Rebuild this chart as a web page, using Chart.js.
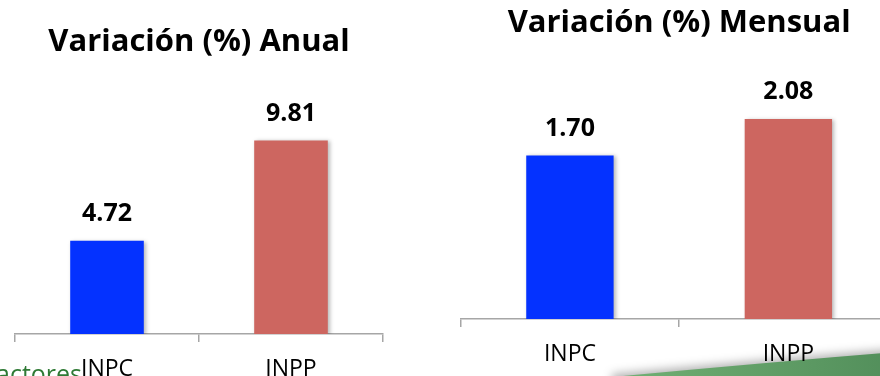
<!DOCTYPE html>
<html lang="es">
<head>
<meta charset="utf-8">
<title>Variación INPC / INPP</title>
<script src="https://cdn.jsdelivr.net/npm/chart.js@4.4.1/dist/chart.umd.min.js"></script>
<style>
  html, body { margin: 0; padding: 0; width: 880px; height: 376px; overflow: hidden; background: #ffffff; }
  #wrap { position: relative; width: 880px; height: 376px; overflow: hidden; }
  canvas { position: absolute; top: 0; }
  #anual { left: 0; }
  #mensual { left: 440px; }
</style>
</head>
<body>
<div id="wrap">
  <canvas id="anual" width="440" height="400"></canvas>
  <canvas id="mensual" width="480" height="400"></canvas>
</div>
<script>
// Índices comparados
const categorias = ['INPC', 'INPP'];
// Variación porcentual anual y mensual
const variacionAnual = [4.72, 9.81];
const variacionMensual = [1.70, 2.08];
// Colores de barra por índice
const coloresBarras = ['#0432ff', '#cd6660'];

Chart.defaults.font.family = "'Open Sans', 'DejaVu Sans', sans-serif";
Chart.defaults.color = '#000000';

const ejeGris = '#a6a6a6';

// Sombra suave bajo las barras y etiqueta de valor encima de cada una
const etiquetasValor = {
  id: 'etiquetasValor',
  beforeDatasetsDraw(chart) {
    const ctx = chart.ctx;
    ctx.save();
    ctx.shadowColor = 'rgba(0,0,0,0.28)';
    ctx.shadowBlur = 4;
    ctx.shadowOffsetX = 2;
    ctx.shadowOffsetY = 1;
  },
  afterDatasetsDraw(chart) {
    const ctx = chart.ctx;
    ctx.restore();
    ctx.save();
    ctx.font = "bold 25px 'Open Sans', sans-serif";
    ctx.fillStyle = '#000000';
    ctx.textAlign = 'center';
    ctx.textBaseline = 'middle';
    chart.data.datasets.forEach((ds, di) => {
      chart.getDatasetMeta(di).data.forEach((bar, i) => {
        ctx.fillText(Number(ds.data[i]).toFixed(2), bar.x, bar.y - 27);
      });
    });
    ctx.restore();
  }
};

// Texto verde del pie de la diapositiva (izquierda)
const pieIzquierdo = {
  id: 'pieIzquierdo',
  beforeDraw(chart) {
    const ctx = chart.ctx;
    ctx.save();
    ctx.font = "25px 'Open Sans', sans-serif";
    ctx.fillStyle = '#2f7a35';
    ctx.textAlign = 'right';
    ctx.textBaseline = 'alphabetic';
    ctx.fillText('Factores', 82, 383);
    ctx.restore();
  }
};

// Franja verde del pie de la diapositiva (derecha)
const franjaVerde = {
  id: 'franjaVerde',
  beforeDraw(chart) {
    const ctx = chart.ctx;
    ctx.save();
    const g = ctx.createLinearGradient(170, 0, 480, 0);
    g.addColorStop(0, '#72b175');
    g.addColorStop(1, '#4f8b58');
    ctx.shadowColor = 'rgba(0,0,0,0.3)';
    ctx.shadowBlur = 10;
    ctx.shadowOffsetY = -3;
    ctx.beginPath();
    ctx.moveTo(172, 400);
    ctx.lineTo(172, 377);
    ctx.quadraticCurveTo(320, 363, 480, 350);
    ctx.lineTo(480, 400);
    ctx.closePath();
    ctx.fillStyle = g;
    ctx.fill();
    ctx.restore();
  }
};

function crearGrafico(id, titulo, valores, yMax, padding) {
  return new Chart(document.getElementById(id), {
    type: 'bar',
    data: {
      labels: categorias,
      datasets: [{
        data: valores,
        backgroundColor: coloresBarras,
        borderWidth: 0,
        barPercentage: 0.4,
        categoryPercentage: 1.0
      }]
    },
    options: {
      responsive: false,
      animation: false,
      events: [],
      layout: { padding: { top: 0, left: padding.left, right: padding.right, bottom: padding.bottom } },
      plugins: {
        legend: { display: false },
        tooltip: { enabled: false },
        title: {
          display: true,
          text: titulo,
          color: '#000000',
          font: { size: 31, weight: 'bold' },
          padding: { top: padding.titleTop, bottom: padding.titleBottom }
        }
      },
      scales: {
        x: {
          offset: true,
          grid: {
            display: true,
            offset: true,
            drawOnChartArea: false,
            drawTicks: true,
            tickLength: 8,
            color: ejeGris,
            lineWidth: 1.5
          },
          border: { display: true, color: ejeGris, width: 1.5 },
          ticks: {
            color: '#000000',
            padding: 14,
            font: { size: 23 }
          }
        },
        y: {
          display: false,
          min: 0,
          max: yMax
        }
      }
    },
    plugins: id === 'anual' ? [pieIzquierdo, etiquetasValor] : [franjaVerde, etiquetasValor]
  });
}

crearGrafico('anual', 'Variación (%) Anual', variacionAnual, 12,
  { left: 15, right: 57, bottom: 2.4, titleTop: 23.4, titleBottom: 36.6 });
crearGrafico('mensual', 'Variación (%) Mensual', variacionMensual, 2.5,
  { left: 20.7, right: 22.4, bottom: 17.4, titleTop: 4.9, titleBottom: 36.4 });
</script>
</body>
</html>
